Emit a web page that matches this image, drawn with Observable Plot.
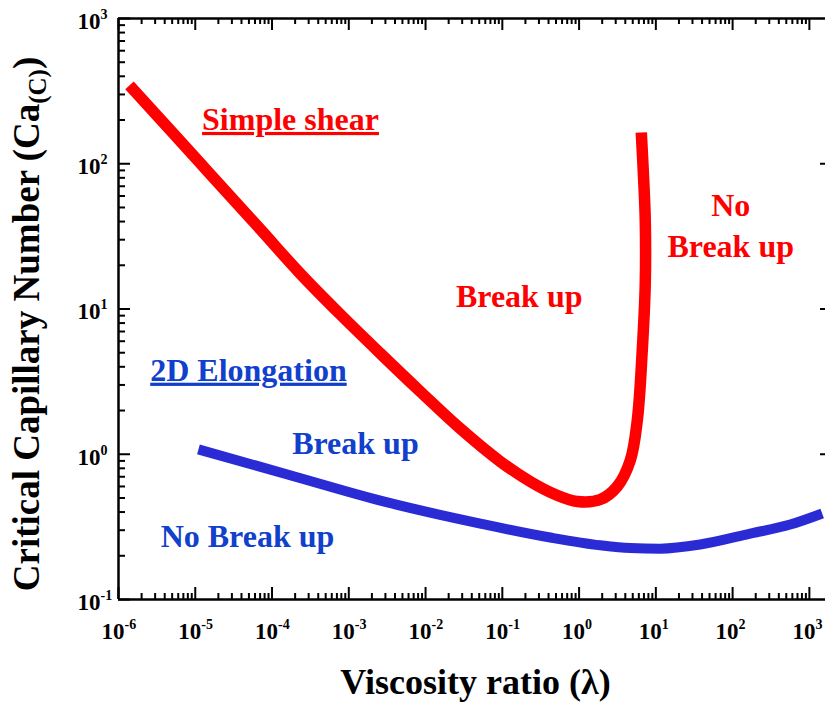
<!DOCTYPE html>
<html><head><meta charset="utf-8">
<script src="https://cdn.jsdelivr.net/npm/d3@7"></script>
<script src="https://cdn.jsdelivr.net/npm/@observablehq/plot@0.6"></script>
<style>
html,body{margin:0;padding:0;background:#fff;}
</style></head><body><div id="chart"></div>
<script>
// Simple shear critical capillary number curve (red)
const shearX = [1.39e-6, 1.17e-5, 7.06e-5, 2.34e-4, 7.78e-4, 2.58e-3, 8.55e-3, 0.0284, 0.0942, 0.232, 0.490, 0.948, 1.89, 3.14, 4.64, 5.73, 6.65, 7.28, 7.28, 6.85, 6.46];
const shearY = [346, 100.5, 35.3, 17.5, 9.16, 4.94, 2.70, 1.50, 0.891, 0.648, 0.528, 0.473, 0.488, 0.600, 0.906, 1.71, 5.18, 15.0, 40.6, 89.9, 164];
// 2D elongation curve (blue)
const elongX = [1.10e-5, 1.59e-4, 3.18e-3, 0.0518, 0.422, 1.89, 4.64, 11.4, 37.8, 169, 562, 1469];
const elongY = [1.08, 0.726, 0.466, 0.333, 0.267, 0.236, 0.226, 0.224, 0.239, 0.284, 0.328, 0.391];
// tick exponents
const xTickExponents = [-6, -5, -4, -3, -2, -1, 0, 1, 2, 3];
const yTickExponents = [-1, 0, 1, 2, 3];
// annotations
const labelText = ["Simple shear", "Break up", "No\nBreak up", "2D Elongation", "Break up", "No Break up"];
const labelX = [1.74e-4, 0.166, 94.4, 4.93e-5, 1.22e-3, 4.79e-5];
const labelY = [195, 11.8, 36.1, 3.66, 1.15, 0.263];
const labelSeries = ["shear", "shear", "shear", "elong", "elong", "elong"];
const labelUnderlined = [true, false, false, true, false, false];
const xTitle = "Viscosity ratio (λ)";
const yTitleMain = "Critical Capillary Number (Ca";
const yTitleSub = "(C)";
const yTitleEnd = ")";

const RED = "#ff0000", BLUE_LINE = "#2b2bd6", BLUE_TEXT = "#1040cc";
const serif = "'Liberation Serif', 'Times New Roman', Times, serif";
const W = 825, H = 704, ML = 118, MT = 18, MB = 105, MR = 0;
const FW = W - ML - MR, FH = H - MT - MB;
const xMax = Math.pow(10, 3.21);

const shear = shearX.map((x, i) => ({x, y: shearY[i]}));
const elong = elongX.map((x, i) => ({x, y: elongY[i]}));
const labels = labelText.map((t, i) => ({text: t, x: labelX[i], y: labelY[i], series: labelSeries[i], u: labelUnderlined[i]}));

const xMajor = xTickExponents.map(e => Math.pow(10, e));
const xMinor = [];
for (const e of xTickExponents) for (let k = 2; k <= 9; k++) { const v = k * Math.pow(10, e); if (v <= xMax) xMinor.push(v); }
const yMajor = yTickExponents.map(e => Math.pow(10, e));
const yMinor = [];
for (const e of yTickExponents.slice(0, -1)) for (let k = 2; k <= 9; k++) yMinor.push(k * Math.pow(10, e));

const tickStyle = {stroke: "black", strokeWidth: 2};
const textBase = {fontWeight: "bold", fontFamily: serif};

const chart = Plot.plot({
  width: W, height: H,
  marginLeft: ML, marginTop: MT, marginBottom: MB, marginRight: MR,
  x: {type: "log", domain: [1e-6, xMax], axis: null},
  y: {type: "log", domain: [0.1, 1000], axis: null},
  style: {fontFamily: serif, background: "white", overflow: "visible"},
  marks: [
    // frame (left, bottom, top)
    Plot.ruleX([1e-6], {stroke: "black", strokeWidth: 2.5}),
    Plot.ruleY([0.1], {stroke: "black", strokeWidth: 2.5}),
    Plot.ruleY([1000], {stroke: "black", strokeWidth: 2.5}),
    // bottom ticks (inward)
    Plot.tickX(xMajor, {x: d => d, insetTop: FH - 12, ...tickStyle}),
    Plot.tickX(xMinor, {x: d => d, insetTop: FH - 6, ...tickStyle}),
    // top ticks (inward)
    Plot.tickX(xMajor, {x: d => d, insetBottom: FH - 12, ...tickStyle}),
    Plot.tickX(xMinor, {x: d => d, insetBottom: FH - 6, ...tickStyle}),
    // left ticks (inward)
    Plot.tickY(yMajor, {y: d => d, insetRight: FW - 12, ...tickStyle}),
    Plot.tickY(yMinor, {y: d => d, insetRight: FW - 7, ...tickStyle}),
    // right ticks (from the cropped right frame)
    Plot.tickY(yMajor.slice(1, -1), {y: d => d, insetLeft: FW - 5, ...tickStyle}),
    // curves
    Plot.line(shear, {x: "x", y: "y", stroke: RED, strokeWidth: 11.5, curve: "catmull-rom", strokeLinecap: "butt", strokeLinejoin: "round"}),
    Plot.line(elong, {x: "x", y: "y", stroke: BLUE_LINE, strokeWidth: 10, curve: "monotone-x", strokeLinecap: "butt", strokeLinejoin: "round"}),
    // x tick labels
    Plot.text(xTickExponents, {x: e => Math.pow(10, e), frameAnchor: "bottom", dy: 32, dx: 6, text: () => "10", textAnchor: "end", lineAnchor: "middle", fontSize: 23, fill: "black", ...textBase}),
    Plot.text(xTickExponents, {x: e => Math.pow(10, e), frameAnchor: "bottom", dy: 25, dx: 6, text: e => String(e), textAnchor: "start", lineAnchor: "middle", fontSize: 14, fill: "black", ...textBase}),
    // y tick labels
    Plot.text(yTickExponents, {y: e => Math.pow(10, e), frameAnchor: "left", dx: -18, dy: 3, text: () => "10", textAnchor: "end", lineAnchor: "middle", fontSize: 23, fill: "black", ...textBase}),
    Plot.text(yTickExponents, {y: e => Math.pow(10, e), frameAnchor: "left", dx: -18, dy: -4, text: e => String(e), textAnchor: "start", lineAnchor: "middle", fontSize: 14, fill: "black", ...textBase}),
    // axis titles
    Plot.text([0], {frameAnchor: "bottom", dy: 83, dx: 3.5, text: () => xTitle, fontSize: 36, lineAnchor: "middle", fill: "black", ...textBase}),
    Plot.text([0], {frameAnchor: "left", dx: -91, dy: 15, rotate: -90, text: () => yTitleMain, fontSize: 37, lineAnchor: "middle", textAnchor: "middle", fill: "black", ...textBase}),
    // annotations
    Plot.text(labels, {x: "x", y: "y", text: "text", fill: d => d.series === "shear" ? RED : BLUE_TEXT, fontSize: 32, lineAnchor: "middle", lineHeight: 1.3, dy: -5, ...textBase})
  ]
});

const ns = "http://www.w3.org/2000/svg";
for (const t of chart.querySelectorAll("text")) {
  const s = t.textContent;
  // subscript in the y-axis title
  if (s === yTitleMain) {
    t.textContent = "";
    t.setAttribute("text-anchor", "middle");
    const t1 = document.createElementNS(ns, "tspan"); t1.textContent = yTitleMain; t.appendChild(t1);
    const t2 = document.createElementNS(ns, "tspan"); t2.textContent = yTitleSub; t2.setAttribute("font-size", "25"); t2.setAttribute("dy", "7"); t.appendChild(t2);
    const t3 = document.createElementNS(ns, "tspan"); t3.textContent = yTitleEnd; t3.setAttribute("dy", "-7"); t.appendChild(t3);
  }
  // underlined category headings
  labels.forEach(d => { if (d.u && s === d.text) t.setAttribute("text-decoration", "underline"); });
}
document.getElementById("chart").appendChild(chart);
</script></body></html>
